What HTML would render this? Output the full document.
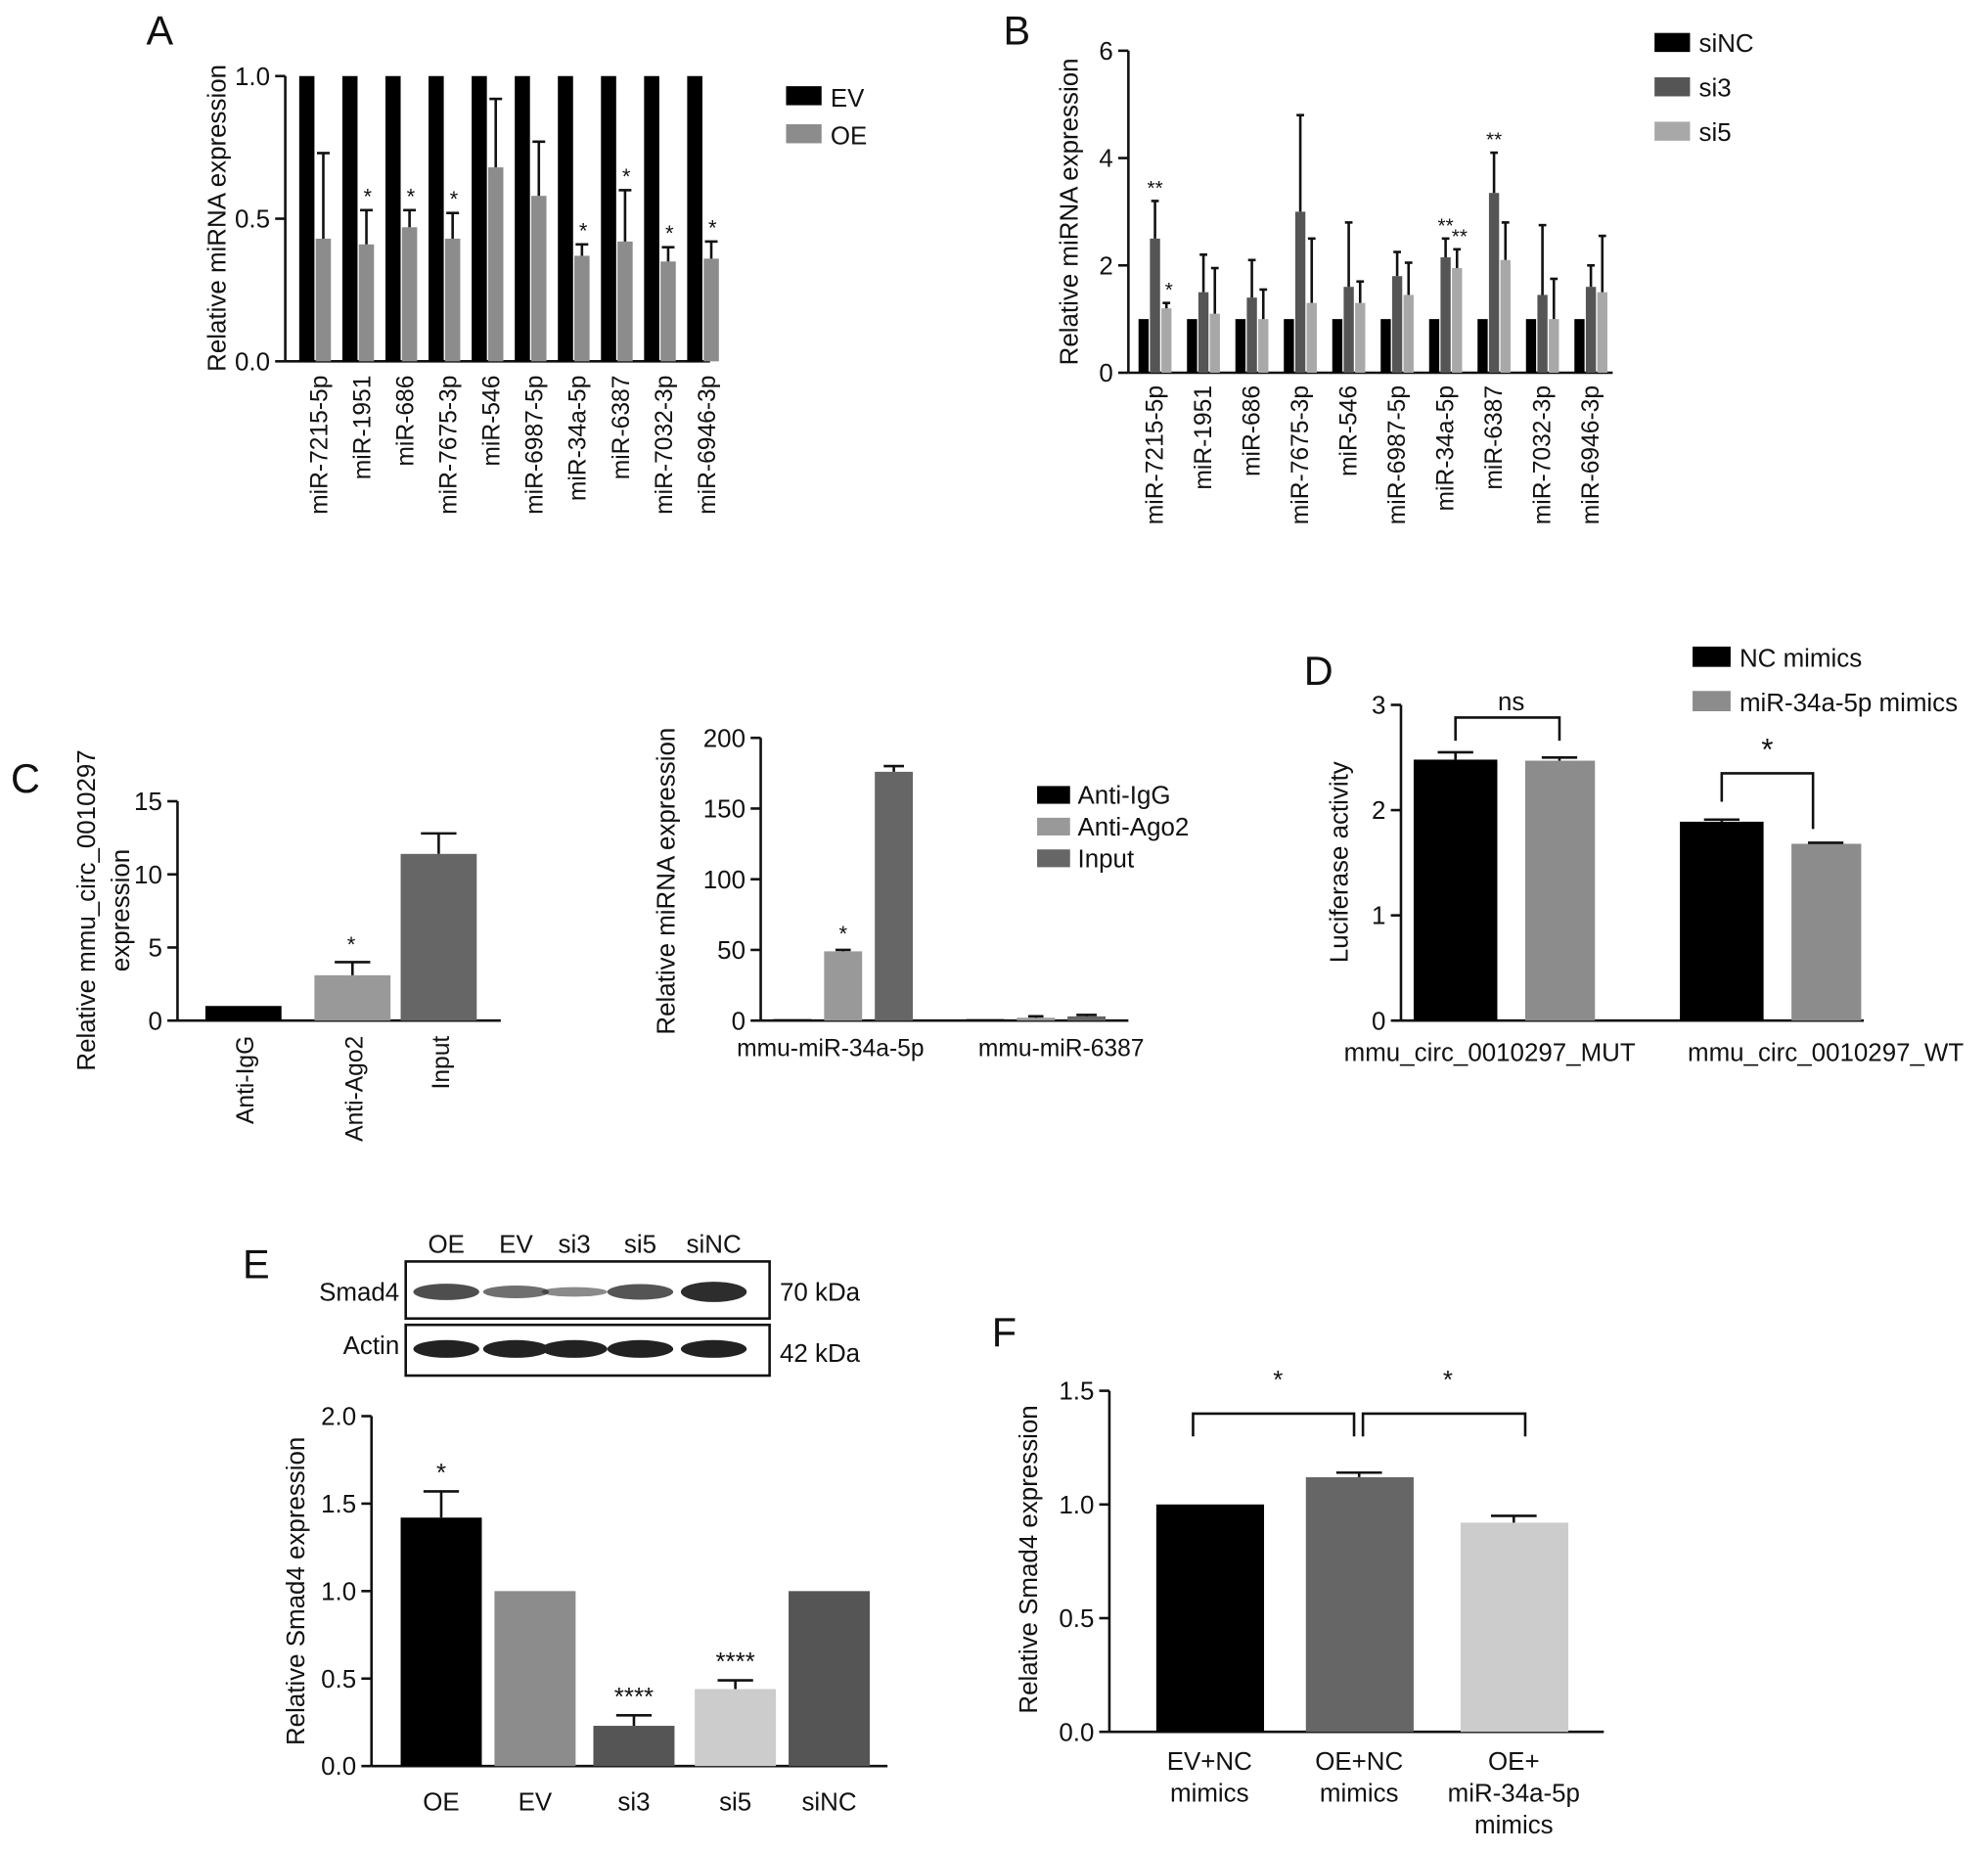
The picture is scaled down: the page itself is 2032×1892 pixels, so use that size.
<!DOCTYPE html>
<html><head><meta charset="utf-8"><style>
html,body{margin:0;padding:0;background:#fff}
svg{display:block}
text{font-family:"Liberation Sans",Arial,sans-serif;fill:#111}
</style></head><body>
<svg id="fig" width="2032" height="1892" viewBox="0 0 1568 1460" xmlns="http://www.w3.org/2000/svg"></svg>
<script>
// ---- Panel A data ----
const aCats=["miR-7215-5p","miR-1951","miR-686","miR-7675-3p","miR-546","miR-6987-5p","miR-34a-5p","miR-6387","miR-7032-3p","miR-6946-3p"];
const aEV=[1,1,1,1,1,1,1,1,1,1];
const aOE=[0.43,0.41,0.47,0.43,0.68,0.58,0.37,0.42,0.35,0.36];
const aOEerr=[0.30,0.12,0.06,0.09,0.24,0.19,0.04,0.18,0.05,0.06];
const aStars=["","*","*","*","","","*","*","*","*"];
const aTicks=[0,0.5,1.0];
// ---- Panel B data ----
const bCats=aCats;
const bNC=[1,1,1,1,1,1,1,1,1,1];
const bSi3=[2.5,1.5,1.4,3.0,1.6,1.8,2.15,3.35,1.45,1.6];
const bSi3err=[0.7,0.7,0.7,1.8,1.2,0.45,0.35,0.75,1.3,0.4];
const bSi5=[1.2,1.1,1.0,1.3,1.3,1.45,1.95,2.1,1.0,1.5];
const bSi5err=[0.1,0.85,0.55,1.2,0.4,0.6,0.35,0.7,0.75,1.05];
const bStars3=["**","","","","","","**","**","",""];
const bStars5=["*","","","","","","**","","",""];
const bTicks=[0,2,4,6];
// ---- Panel C data ----
const c1Cats=["Anti-IgG","Anti-Ago2","Input"];
const c1Vals=[1.0,3.1,11.4];
const c1Err=[0,0.9,1.4];
const c1Ticks=[0,5,10,15];
const c2Cats=["mmu-miR-34a-5p","mmu-miR-6387"];
const c2IgG=[1,1];
const c2Ago=[49,2];
const c2Inp=[176,3];
const c2InpErr=[4,1];
const c2Ticks=[0,50,100,150,200];
// ---- Panel D data ----
const dCats=["mmu_circ_0010297_MUT","mmu_circ_0010297_WT"];
const dNC=[2.48,1.89];
const dNCerr=[0.07,0.02];
const dMim=[2.47,1.68];
const dMimErr=[0.03,0.01];
const dTicks=[0,1,2,3];
// ---- Panel E data ----
const eCats=["OE","EV","si3","si5","siNC"];
const eVals=[1.42,1.0,0.23,0.44,1.0];
const eErr=[0.15,0,0.06,0.05,0];
const eStars=["*","","****","****",""];
const eTicks=[0,0.5,1.0,1.5,2.0];
// ---- Panel F data ----
const fCats=[["EV+NC","mimics"],["OE+NC","mimics"],["OE+","miR-34a-5p","mimics"]];
const fVals=[1.0,1.12,0.92];
const fErr=[0,0.02,0.03];
const fTicks=[0,0.5,1.0,1.5];

const S=document.getElementById('fig');
const NS="http://www.w3.org/2000/svg";
function mk(tag,at,txt){const e=document.createElementNS(NS,tag);for(const k in at)e.setAttribute(k,at[k]);if(txt!==undefined)e.textContent=txt;S.appendChild(e);return e;}
function line(x1,y1,x2,y2,w){return mk('line',{x1,y1,x2,y2,stroke:'#111','stroke-width':w||2});}
function txt(x,y,s,size,anchor,rot){const a={x,y,'font-size':size,'text-anchor':anchor||'middle'};if(rot)a.transform=`rotate(${rot} ${x} ${y})`;return mk('text',a,s);}
function bar(x,w,y0,y1,fill){return mk('rect',{x,y:y1,width:w,height:y0-y1,fill});}
function err(cx,yv,ye,hw){line(cx,yv,cx,ye,2);line(cx-hw,ye,cx+hw,ye,2);}
function yaxis(x,yb,yt,ticks,fmt,size){const t=ticks[ticks.length-1];const sc=v=>yb-(yb-yt)*v/t;
 const ax=line(x,yb,x,yt,2);
 ticks.forEach(v=>{line(x-8,sc(v),x,sc(v),2);const l=txt(x-12,sc(v)+7,fmt(v),size||20,'end');});return sc;}

// ===== Panel A =====
let t=txt(126,35,"A",32);
const ay=yaxis(225,285,60,aTicks,v=>v.toFixed(1));
line(225,285,560,285,2);
t=txt(178,172,"Relative miRNA expression",20,'middle',-90);
aCats.forEach((c,i)=>{const x=236+i*34;
 let r=bar(x,12,285,ay(aEV[i]),'#000');
 r=bar(x+13,12,285,ay(aOE[i]),'#8c8c8c');
 err(x+19,ay(aOE[i]),ay(aOE[i]+aOEerr[i]),5);
 if(aStars[i])txt(x+20,ay(aOE[i]+aOEerr[i])-5,aStars[i],17);
 const l=txt(x+22,296,c,19,'end',-90);});
t=mk('rect',{x:620,y:68,width:28,height:15,fill:'#000'});
txt(655,84,"EV",20,'start');
t=mk('rect',{x:620,y:98,width:28,height:15,fill:'#8c8c8c'});
txt(655,114,"OE",20,'start');

// ===== Panel B =====
t=txt(802,35,"B",32);
const by=yaxis(890,294,40,bTicks,v=>String(v));
line(890,294,1272,294,2);
t=txt(850,167,"Relative miRNA expression",20,'middle',-90);
bCats.forEach((c,i)=>{const x=898+i*38.2;
 let r=bar(x,8,294,by(bNC[i]),'#000');
 r=bar(x+9,8,294,by(bSi3[i]),'#555');
 err(x+13,by(bSi3[i]),by(bSi3[i]+bSi3err[i]),3);
 r=bar(x+18,8,294,by(bSi5[i]),'#a8a8a8');
 err(x+22,by(bSi5[i]),by(bSi5[i]+bSi5err[i]),3);
 if(bStars3[i])txt(x+13,by(bSi3[i]+bSi3err[i])-5,bStars3[i],16);
 if(bStars5[i])txt(x+24,by(bSi5[i]+bSi5err[i])-5,bStars5[i],16);
 const l=txt(x+19,304,c,19,'end',-90);});
[["siNC","#000"],["si3","#555"],["si5","#a8a8a8"]].forEach((g,i)=>{t=mk('rect',{x:1305,y:26+i*35,width:28,height:15,fill:g[1]});txt(1340,41+i*35,g[0],20,'start');});

// ===== Panel C left =====
t=txt(20,625,"C",32);
const c1y=yaxis(140,805,632,c1Ticks,v=>String(v));
line(140,805,395,805,2);
txt(75,718,"Relative mmu_circ_0010297",20,'middle',-90);txt(102,718,"expression",20,'middle',-90);
const c1Col=['#000','#999','#666'];const c1X=[162,248,316];
c1Cats.forEach((c,i)=>{let r=bar(c1X[i],60,805,c1y(c1Vals[i]),c1Col[i]);
 if(c1Err[i])err(c1X[i]+30,c1y(c1Vals[i]),c1y(c1Vals[i]+c1Err[i]),14);
 const l=txt(c1X[i]+38,817,c,19,'end',-90);});
txt(277,c1y(c1Vals[1]+c1Err[1])-8,"*",17);

// ===== Panel C right =====
const c2y=yaxis(600,805,582,c2Ticks,v=>String(v));
line(600,805,890,805,2);
t=txt(532,695,"Relative miRNA expression",20,'middle',-90);
c2Cats.forEach((c,i)=>{const x=610+i*152;
 let r=bar(x,30,805,c2y(c2IgG[i]),'#000');
 r=bar(x+40,30,805,c2y(c2Ago[i]),'#999');
 err(x+55,c2y(c2Ago[i]),c2y(c2Ago[i]+1),6);
 r=bar(x+80,30,805,c2y(c2Inp[i]),'#666');
 err(x+95,c2y(c2Inp[i]),c2y(c2Inp[i]+c2InpErr[i]),8);
 const l=txt(x+45+i*30,833,c,19);});
txt(665,c2y(c2Ago[0])-8,"*",17);
[["Anti-IgG","#000"],["Anti-Ago2","#999"],["Input","#666"]].forEach((g,i)=>{t=mk('rect',{x:818,y:620+i*25,width:26,height:14,fill:g[1]});txt(850,634+i*25,g[0],20,'start');});

// ===== Panel D =====
t=txt(1040,540,"D",32);
const dy=yaxis(1105,805,556,dTicks,v=>String(v));
line(1105,805,1470,805,2);
t=txt(1063,680,"Luciferase activity",20,'middle',-90);
const dX=[1115,1325];
dCats.forEach((c,i)=>{const x=dX[i];
 let r=bar(x,66,805,dy(dNC[i]),'#000');
 err(x+33,dy(dNC[i]),dy(dNC[i]+dNCerr[i]),14);
 r=bar(x+88,55,805,dy(dMim[i]),'#8c8c8c');
 err(x+115,dy(dMim[i]),dy(dMim[i]+dMimErr[i]),14);
 const l=txt(x+60+i*55,837,c,20);});
function brk(x1,x2,yt,yb1,yb2){mk('path',{d:`M${x1} ${yb1}V${yt}H${x2}V${yb2}`,fill:'none',stroke:'#111','stroke-width':2});}
brk(1148,1230,dy(2.88),dy(2.66),dy(2.66));txt(1192,dy(2.95),"ns",20);
brk(1358,1430,dy(2.35),dy(2.08),dy(1.82));txt(1394,dy(2.48),"*",24);
[["NC mimics","#000"],["miR-34a-5p mimics","#8c8c8c"]].forEach((g,i)=>{t=mk('rect',{x:1335,y:510+i*35,width:30,height:16,fill:g[1]});txt(1372,526+i*35,g[0],20,'start');});

// ===== Panel E =====
t=txt(202,1008,"E",32);
const laneX=[352,407,453,505,563];
eCats.forEach((c,i)=>txt(laneX[i],988,c,20));
t=mk('rect',{x:320,y:995,width:287,height:45,fill:'#fff',stroke:'#111','stroke-width':2});
t=mk('rect',{x:320,y:1045,width:287,height:40,fill:'#fff',stroke:'#111','stroke-width':2});
const smadInt=[0.75,0.5,0.3,0.7,1.0];
laneX.forEach((x,i)=>{mk('ellipse',{cx:x,cy:1019,rx:26,ry:6*smadInt[i]+2,fill:'#222','fill-opacity':0.35+0.6*smadInt[i]});mk('ellipse',{cx:x,cy:1064,rx:26,ry:7,fill:'#222'});});
txt(315,1026,"Smad4",20,'end');txt(315,1068,"Actin",20,'end');
txt(615,1026,"70 kDa",20,'start');txt(615,1074,"42 kDa",20,'start');
const ey=yaxis(293,1393,1117,eTicks,v=>v.toFixed(1));
line(293,1393,700,1393,2);
t=txt(240,1255,"Relative Smad4 expression",20,'middle',-90);
const eCol=['#000','#8c8c8c','#555','#ccc','#555'];const eX=[316,390,468,548,622];
eCats.forEach((c,i)=>{let r=bar(eX[i],64,1393,ey(eVals[i]),eCol[i]);
 if(eErr[i])err(eX[i]+32,ey(eVals[i]),ey(eVals[i]+eErr[i]),14);
 if(eStars[i])txt(eX[i]+32,ey(eVals[i]+eErr[i])-8,eStars[i],20);
 const l=txt(eX[i]+32,1428,c,20);});

// ===== Panel F =====
t=txt(792,1062,"F",32);
const fy=yaxis(875,1366,1097,fTicks,v=>v.toFixed(1));
line(875,1366,1265,1366,2);
t=txt(818,1230,"Relative Smad4 expression",20,'middle',-90);
const fCol=['#000','#666','#ccc'];const fX=[912,1030,1152];
fCats.forEach((c,i)=>{let r=bar(fX[i],85,1366,fy(fVals[i]),fCol[i]);
 if(fErr[i])err(fX[i]+42,fy(fVals[i]),fy(fVals[i]+fErr[i]),18);
 c.forEach((s,j)=>{const l=txt(fX[i]+42,1396+j*25,s,20);});});
brk(941,1068,1115,1133,1133);brk(1075,1203,1115,1133,1133);
txt(1008,1095,"*",20);txt(1142,1095,"*",20);
</script>
</body></html>
